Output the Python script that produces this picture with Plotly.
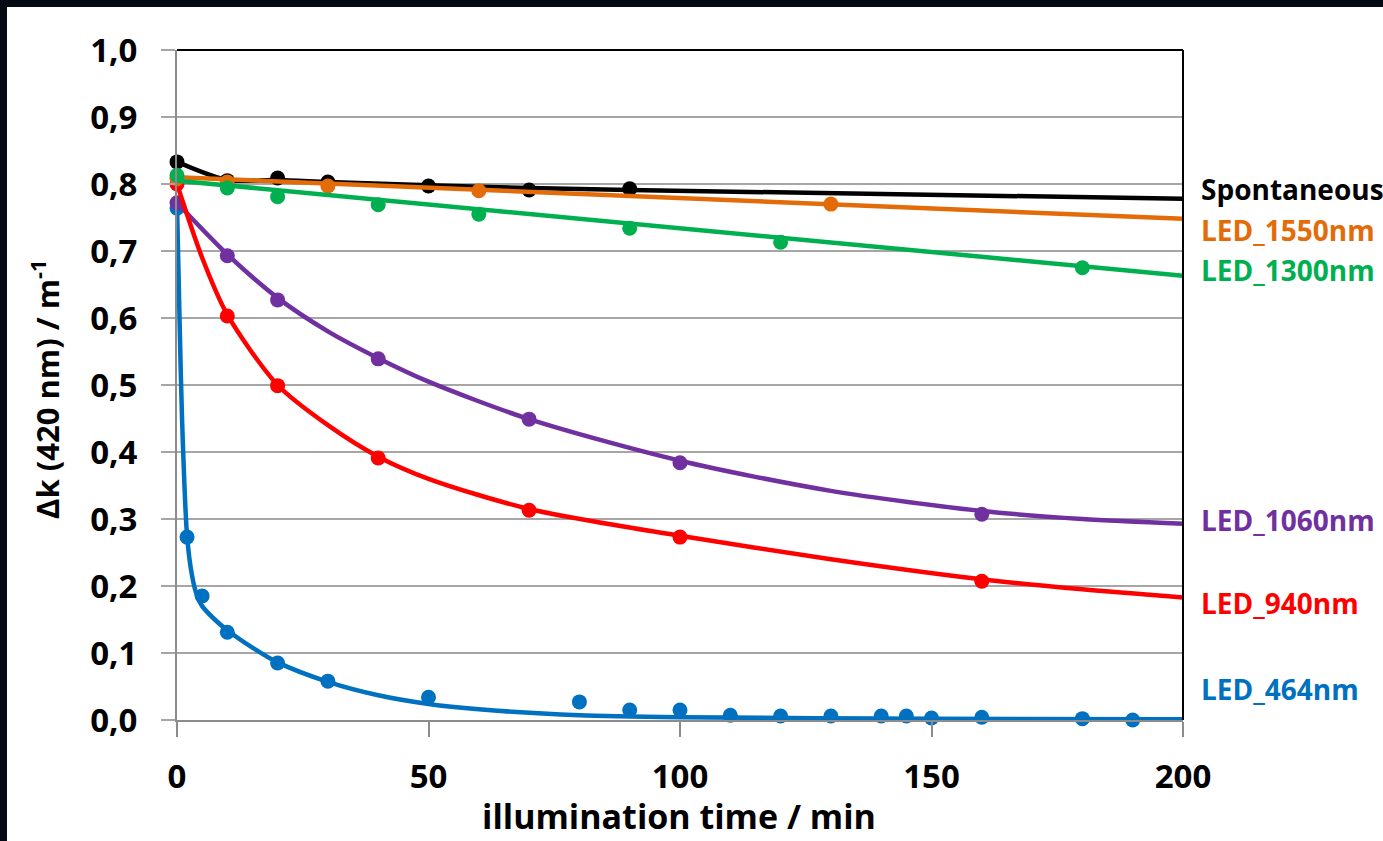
import plotly.graph_objects as go

# ---- measured data (illumination time in min, delta k at 420 nm in 1/m) ----
t_spont = [0, 10, 20, 30, 50, 70, 90]
k_spont = [0.833, 0.805, 0.809, 0.803, 0.797, 0.791, 0.793]

t_1550 = [0, 10, 30, 60, 130]
k_1550 = [0.808, 0.803, 0.797, 0.790, 0.770]

t_1300 = [0, 10, 20, 40, 60, 90, 120, 180]
k_1300 = [0.813, 0.794, 0.781, 0.769, 0.755, 0.734, 0.713, 0.675]

t_1060 = [0, 10, 20, 40, 70, 100, 160]
k_1060 = [0.772, 0.693, 0.627, 0.539, 0.449, 0.384, 0.307]

t_940 = [0, 10, 20, 40, 70, 100, 160]
k_940 = [0.800, 0.603, 0.499, 0.391, 0.313, 0.273, 0.207]

t_464 = [0, 2, 5, 10, 20, 30, 50, 80, 90, 100, 110, 120, 130, 140, 145, 150, 160, 180, 190]
k_464 = [0.764, 0.273, 0.185, 0.131, 0.085, 0.058, 0.034, 0.027, 0.015, 0.015,
         0.007, 0.006, 0.006, 0.006, 0.006, 0.003, 0.004, 0.002, 0.000]

# ---- fitted curves ----
fit_t_spont = [0, 10, 20, 30, 50, 70, 90, 200]
fit_k_spont = [0.833, 0.806, 0.806, 0.803, 0.798, 0.794, 0.791, 0.778]

fit_t_1550 = [0, 200]
fit_k_1550 = [0.810, 0.748]

fit_t_1300 = [0, 200]
fit_k_1300 = [0.805, 0.663]

fit_t_1060 = [0, 10, 20, 30, 40, 50, 70, 100, 130, 160, 180, 200]
fit_k_1060 = [0.772, 0.695, 0.630, 0.580, 0.540, 0.505, 0.449, 0.387, 0.342, 0.312, 0.300, 0.293]

fit_t_940 = [0, 5, 10, 20, 30, 40, 50, 70, 100, 130, 160, 180, 200]
fit_k_940 = [0.800, 0.690, 0.605, 0.500, 0.440, 0.393, 0.360, 0.315, 0.275, 0.240, 0.210, 0.195, 0.183]

fit_t_464 = [0, 0.5, 1, 2, 3, 4, 5, 7.5, 10, 15, 20, 30, 40, 50, 60, 80, 100, 150, 200]
fit_k_464 = [0.770, 0.600, 0.450, 0.275, 0.215, 0.185, 0.170, 0.150, 0.134, 0.108,
             0.086, 0.057, 0.037, 0.024, 0.016, 0.007, 0.004, 0.002, 0.001]

labels = ["Spontaneous", "LED_1550nm", "LED_1300nm", "LED_1060nm", "LED_940nm", "LED_464nm"]
label_y = [0.793, 0.731, 0.671, 0.298, 0.174, 0.047]

series = [
    # (measured t, measured k, fit t, fit k, colour)
    (t_464, k_464, fit_t_464, fit_k_464, "#0070C0"),
    (t_1060, k_1060, fit_t_1060, fit_k_1060, "#7030A0"),
    (t_940, k_940, fit_t_940, fit_k_940, "#FF0000"),
    (t_spont, k_spont, fit_t_spont, fit_k_spont, "#000000"),
    (t_1550, k_1550, fit_t_1550, fit_k_1550, "#E36C09"),
    (t_1300, k_1300, fit_t_1300, fit_k_1300, "#00B050"),
]
label_colors = ["#000000", "#E36C09", "#00B050", "#7030A0", "#FF0000", "#0070C0"]

FONT = "Open Sans"

fig = go.Figure()
for t, k, ft, fk, col in series:
    fig.add_trace(go.Scatter(x=ft, y=fk, mode="lines",
                             line=dict(color=col, width=4.5, shape="spline", smoothing=0.8),
                             hoverinfo="skip", showlegend=False, cliponaxis=False))
    fig.add_trace(go.Scatter(x=t, y=k, mode="markers",
                             marker=dict(color=col, size=15),
                             showlegend=False, cliponaxis=False))

W, H = 1383, 841
L, R, T, B = 177, 200, 50, 121
pw, ph = W - L - R, H - T - B

def px_to_paper_x(px):
    return (px - L) / pw

def px_to_paper_y(py):
    return (H - B - py) / ph

annotations = []
for txt, yv, col in zip(labels, label_y, label_colors):
    annotations.append(dict(x=px_to_paper_x(1199), xref="paper", y=yv, yref="y",
                            text="<b>%s</b>" % txt,
                            showarrow=False, xanchor="left", yanchor="middle",
                            font=dict(family=FONT, size=28, color=col)))

annotations.append(dict(x=px_to_paper_x(679), xref="paper", y=px_to_paper_y(816), yref="paper",
                        text="<b>illumination time / min</b>", showarrow=False,
                        xanchor="center", yanchor="middle",
                        font=dict(family=FONT, size=34, color="#000000")))
annotations.append(dict(x=px_to_paper_x(45), xref="paper", y=px_to_paper_y(390), yref="paper",
                        text="<b>Δk (420 nm) / m<sup>-1</sup></b>", showarrow=False,
                        textangle=-90, xanchor="center", yanchor="middle",
                        font=dict(family=FONT, size=31, color="#000000")))

dark = "#060a14"
shapes = [
    # dark frame strips at top and left edge of the page
    dict(type="rect", xref="paper", yref="paper", layer="above",
         x0=px_to_paper_x(0), x1=px_to_paper_x(W), y0=px_to_paper_y(7), y1=px_to_paper_y(-2),
         fillcolor=dark, line=dict(width=0)),
    dict(type="rect", xref="paper", yref="paper", layer="above",
         x0=px_to_paper_x(-2), x1=px_to_paper_x(7), y0=px_to_paper_y(H + 2), y1=px_to_paper_y(-2),
         fillcolor=dark, line=dict(width=0)),
    # plot-area border on top and right
    dict(type="line", xref="paper", yref="paper", x0=0, x1=1, y0=1, y1=1,
         line=dict(color="#000000", width=2), layer="below"),
    dict(type="line", xref="paper", yref="paper", x0=1, x1=1, y0=0, y1=1,
         line=dict(color="#000000", width=2), layer="above"),
]

fig.update_layout(
    width=W, height=H,
    margin=dict(l=L, r=R, t=T, b=B),
    paper_bgcolor="#ffffff", plot_bgcolor="#ffffff",
    annotations=annotations, shapes=shapes,
    font=dict(family=FONT, color="#000000"),
)
fig.update_xaxes(range=[0, 200], tickvals=[0, 50, 100, 150, 200],
                 ticktext=["<b>0</b>", "<b>50</b>", "<b>100</b>", "<b>150</b>", "<b>200</b>"],
                 showgrid=False, zeroline=False, showline=True, linecolor="#8c8c8c", linewidth=2,
                 ticks="outside", ticklen=15, tickwidth=2, tickcolor="#8c8c8c",
                 ticklabelstandoff=11, tickfont=dict(family=FONT, size=33, color="#000000"))
yvals = [i / 10 for i in range(11)]
fig.update_yaxes(range=[0, 1.0], tickvals=yvals,
                 ticktext=["<b>%s</b>" % ("%.1f" % v).replace(".", ",") for v in yvals],
                 showgrid=True, gridcolor="#a6a6a6", gridwidth=2, zeroline=False,
                 showline=True, linecolor="#8c8c8c", linewidth=2,
                 ticks="outside", ticklen=14, tickwidth=2, tickcolor="#a6a6a6",
                 ticklabelstandoff=17, tickfont=dict(family=FONT, size=33, color="#000000"))

fig.write_html("out.html")
